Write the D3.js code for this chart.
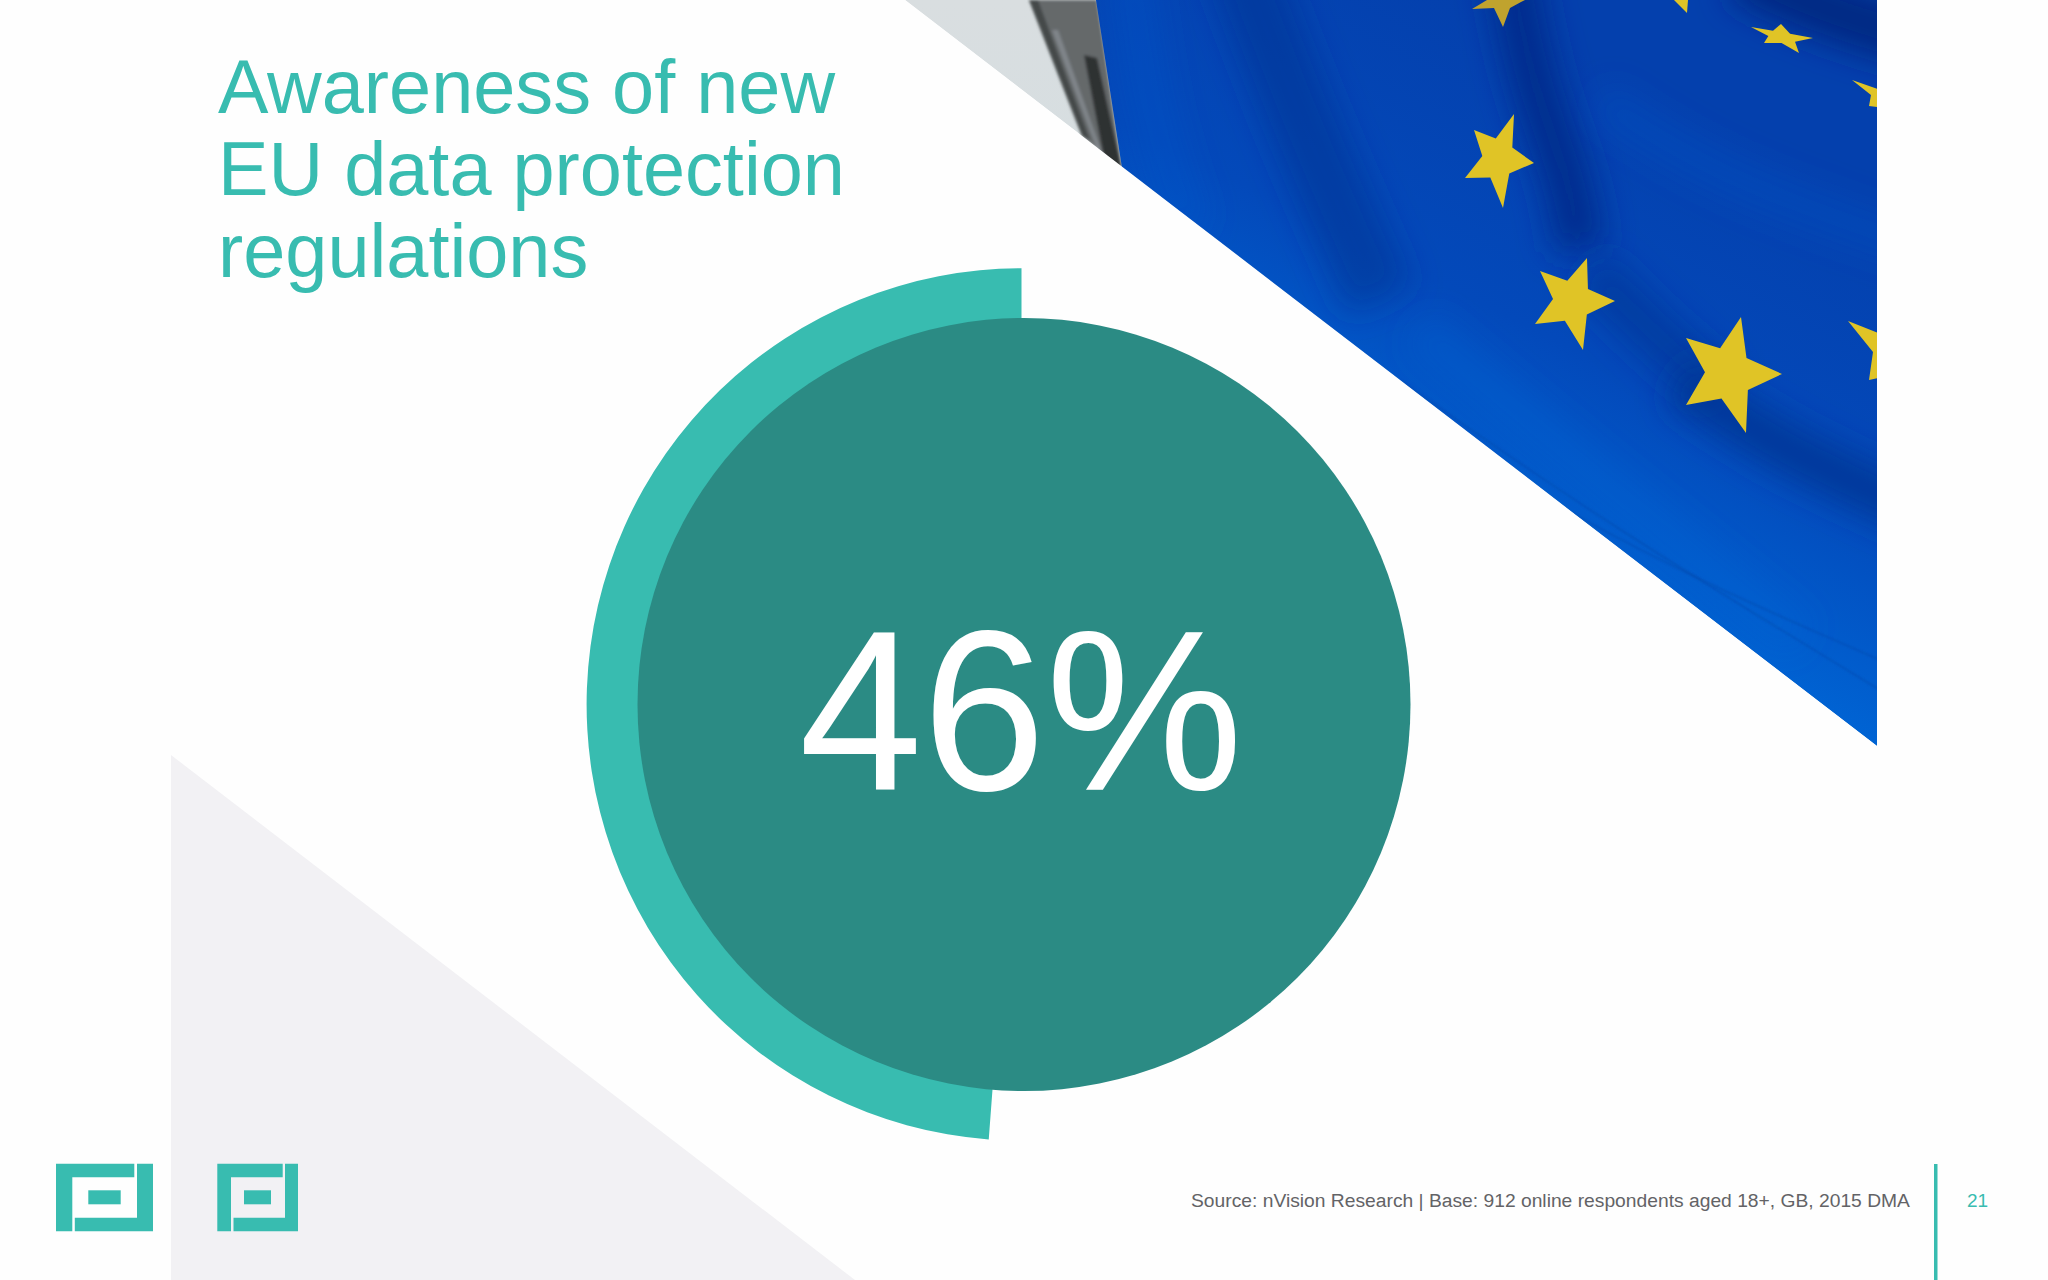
<!DOCTYPE html>
<html>
<head>
<meta charset="utf-8">
<title>Awareness of new EU data protection regulations</title>
<script src="https://cdn.jsdelivr.net/npm/d3@7"></script>
<style>
  html, body { margin: 0; padding: 0; background: #fefefe; }
  svg { display: block; }
  text { font-family: "Liberation Sans", Arial, sans-serif; }
</style>
</head>
<body>
<svg width="2048" height="1280"></svg>
<script>
// values
const titleLines = ["Awareness of new", "EU data protection", "regulations"];
const awareness = [46];
const ringShare = [48.8];
const sourceNote = ["Source: nVision Research | Base: 912 online respondents aged 18+, GB, 2015 DMA"];
const pageNumber = ["21"];

const TEAL = "#38bcb0", DARK_TEAL = "#2b8b84", GREY_TEXT = "#636366";

const svg = d3.select("svg");
const defs = svg.append("defs");

// flag photo is not data, it is painted roughly from shapes
const photoCorners = [[905, 0], [1877, 0], [1877, 746]];
const postCorners = [[1029, 0], [1097, 0], [1122, 170], [1082, 136]];
const blueEdge = [[1096, 0], [1877, 0], [1877, 746], [1122, 168]];

// full stars: the five tips, in order
const starTips = [
  [[1514, 114], [1534, 163], [1503, 208], [1465, 178], [1474, 130]],
  [[1587, 258], [1615, 301], [1583, 350], [1535, 324], [1540, 271]],
  [[1741, 317], [1782, 374], [1746, 433], [1686, 405], [1686, 338]],
  [[1751, 27], [1781, 24], [1813, 38], [1799, 53], [1764, 43]]
];
// stars cut by the photo edge
const starPieces = [
  [[1472, 9], [1487, 0], [1525, 0], [1521, 2], [1510, 8], [1503, 27], [1494, 8]],
  [[1674, 0], [1687, 13], [1688, 0]],
  [[1852, 80], [1878, 89], [1878, 107], [1869, 106], [1871, 95]],
  [[1848, 321], [1878, 333], [1878, 378], [1869, 380], [1873, 352]]
];

// dark and light creases in the cloth
const folds = [
  { c: "#02338f", w: 70, o: 0.5, p: [[1240, -40], [1300, 120], [1380, 300]] },
  { c: "#012c88", w: 50, o: 0.85, p: [[1510, -40], [1530, 80], [1570, 180], [1580, 250]] },
  { c: "#00257c", w: 60, o: 0.85, p: [[1740, -30], [1820, 10], [1960, 50]] },
  { c: "#02338f", w: 50, o: 0.5, p: [[1590, 270], [1660, 340], [1720, 390]] },
  { c: "#02328f", w: 50, o: 0.7, p: [[1680, 380], [1780, 450], [1960, 530]] },
  { c: "#0a55c8", w: 40, o: 0.4, p: [[1130, -30], [1150, 120], [1190, 230]] },
  { c: "#0a58ca", w: 40, o: 0.25, p: [[1600, 100], [1720, 180], [1960, 260]] },
  { c: "#0a66d4", w: 40, o: 0.3, p: [[1420, 330], [1600, 480], [1800, 640]] }
];
// thin shadow lines near the lower edge
const creaseLines = [
  [[1400, 380], [1600, 520], [1880, 690]],
  [[1300, 330], [1560, 520], [1880, 660]]
];

// photo
const blueGrad = defs.append("linearGradient").attr("id", "blue")
  .attr("gradientUnits", "userSpaceOnUse")
  .attr("x1", 1560).attr("y1", 40).attr("x2", 1340).attr("y2", 480);
blueGrad.append("stop").attr("offset", 0).attr("stop-color", "#0440ad");
blueGrad.append("stop").attr("offset", 0.55).attr("stop-color", "#0349ba");
blueGrad.append("stop").attr("offset", 1).attr("stop-color", "#0064d4");

const skyGrad = defs.append("linearGradient").attr("id", "sky")
  .attr("x1", 0).attr("y1", 0).attr("x2", 0).attr("y2", 1);
skyGrad.append("stop").attr("offset", 0).attr("stop-color", "#d9dee0");
skyGrad.append("stop").attr("offset", 1).attr("stop-color", "#cddde3");

defs.append("clipPath").attr("id", "photoClip").append("polygon")
  .attr("points", photoCorners.join(" "));
function blurFilter(id, amount) {
  defs.append("filter").attr("id", id)
    .attr("filterUnits", "userSpaceOnUse")
    .attr("x", 900).attr("y", -100).attr("width", 1148).attr("height", 950)
    .append("feGaussianBlur").attr("stdDeviation", amount);
}
blurFilter("soft", 16);
blurFilter("softThin", 1.2);
blurFilter("softPost", 1.5);

const photo = svg.append("g").attr("clip-path", "url(#photoClip)");
photo.append("polygon").attr("points", photoCorners.join(" ")).attr("fill", "url(#sky)");
const post = photo.append("g").attr("filter", "url(#softPost)");
post.append("polygon").attr("points", postCorners.join(" ")).attr("fill", "#65696b");
post.append("polygon").attr("points", [[1029, 0], [1038, 0], [1090, 140], [1082, 136]].join(" ")).attr("fill", "#44484a");
post.append("polygon").attr("points", [[1052, 30], [1058, 30], [1104, 158], [1098, 152]].join(" ")).attr("fill", "#80858a");
post.append("polygon").attr("points", [[1084, 55], [1097, 58], [1122, 170], [1104, 158]].join(" ")).attr("fill", "#2e3032");
photo.append("polygon").attr("points", blueEdge.join(" ")).attr("fill", "url(#blue)");

defs.append("clipPath").attr("id", "blueClip").append("polygon")
  .attr("points", blueEdge.join(" "));
const cloth = photo.append("g").attr("clip-path", "url(#blueClip)");
const foldLine = d3.line().curve(d3.curveBasis);
cloth.selectAll("path.fold").data(folds).join("path")
  .attr("class", "fold")
  .attr("d", d => foldLine(d.p))
  .attr("fill", "none")
  .attr("stroke", d => d.c)
  .attr("stroke-width", d => d.w)
  .attr("stroke-opacity", d => d.o)
  .attr("filter", "url(#soft)");
cloth.selectAll("path.crease").data(creaseLines).join("path")
  .attr("class", "crease")
  .attr("d", foldLine)
  .attr("fill", "none")
  .attr("stroke", "#0346a8")
  .attr("stroke-width", 1.5)
  .attr("stroke-opacity", 0.5)
  .attr("filter", "url(#softThin)");

// tips -> ten point star, the inner points sit on the midlines
function starPoints(tips) {
  const cx = d3.mean(tips, d => d[0]), cy = d3.mean(tips, d => d[1]);
  const pts = [];
  tips.forEach((t, i) => {
    const n = tips[(i + 1) % 5];
    pts.push(t);
    pts.push([cx + ((t[0] + n[0]) / 2 - cx) * 0.55, cy + ((t[1] + n[1]) / 2 - cy) * 0.55]);
  });
  return pts;
}
cloth.selectAll("polygon.star").data(starTips).join("polygon")
  .attr("class", "star")
  .attr("points", d => starPoints(d).join(" "))
  .attr("fill", "#e0c426");
cloth.selectAll("polygon.piece").data(starPieces).join("polygon")
  .attr("class", "piece")
  .attr("points", d => d.join(" "))
  .attr("fill", (d, i) => i === 0 ? "#c0a32e" : "#e0c426");

// grey corner
svg.append("polygon")
  .attr("points", [[171, 755], [171, 1280], [855, 1280]].join(" "))
  .attr("fill", "#f2f1f4");

// ring and disc
const angle = d3.scaleLinear().domain([0, 100]).range([0, -2 * Math.PI]);
const ringArc = d3.arc().innerRadius(340).outerRadius(436.2).startAngle(0);
svg.append("g").attr("transform", "translate(1021.5,704.5) scale(0.997,1)")
  .selectAll("path").data(ringShare).join("path")
  .attr("d", d => ringArc({ endAngle: angle(d) }))
  .attr("fill", TEAL);
svg.append("circle").attr("cx", 1024).attr("cy", 704.5).attr("r", 386.5).attr("fill", DARK_TEAL);

svg.selectAll("text.value").data(awareness).join("text")
  .attr("class", "value")
  .attr("x", 1021).attr("y", 790)
  .attr("text-anchor", "middle")
  .attr("font-size", 228)
  .attr("textLength", 444)
  .attr("lengthAdjust", "spacingAndGlyphs")
  .attr("fill", "#ffffff")
  .text(d => d + "%");

// title
svg.selectAll("text.title").data(titleLines).join("text")
  .attr("class", "title")
  .attr("x", 218)
  .attr("y", (d, i) => 112.5 + i * 82)
  .attr("font-size", 75.7)
  .attr("fill", TEAL)
  .text(d => d);

// the two logos differ only in width
function logo(x, w, notchA, notchB, midA, midB, gap) {
  const top = 1163.7, bottom = 1231.3, g = svg.append("g").attr("fill", TEAL);
  g.append("polygon").attr("points", [
    [x, top], [x + notchA, top], [x + notchA, 1177.3], [x + gap, 1177.3], [x + gap, bottom], [x, bottom]
  ].join(" "));
  g.append("polygon").attr("points", [
    [x + notchB, top], [x + w, top], [x + w, bottom], [x + gap + 2.5, bottom], [x + gap + 2.5, 1217.7], [x + notchB, 1217.7]
  ].join(" "));
  g.append("rect").attr("x", x + midA).attr("y", 1190.3).attr("width", midB - midA).attr("height", 14);
}
logo(56, 97, 78.3, 81, 32.3, 64.7, 16.3);
logo(217.3, 80.7, 65.4, 67.7, 26.7, 53.7, 13.7);

// footer
svg.selectAll("text.source").data(sourceNote).join("text")
  .attr("class", "source")
  .attr("x", 1191).attr("y", 1207)
  .attr("font-size", 19.25)
  .attr("fill", GREY_TEXT)
  .text(d => d);
svg.append("rect").attr("x", 1934).attr("y", 1164).attr("width", 3.5).attr("height", 116).attr("fill", TEAL);
svg.selectAll("text.page").data(pageNumber).join("text")
  .attr("class", "page")
  .attr("x", 1967).attr("y", 1207)
  .attr("font-size", 19)
  .attr("fill", TEAL)
  .text(d => d);
</script>
</body>
</html>
